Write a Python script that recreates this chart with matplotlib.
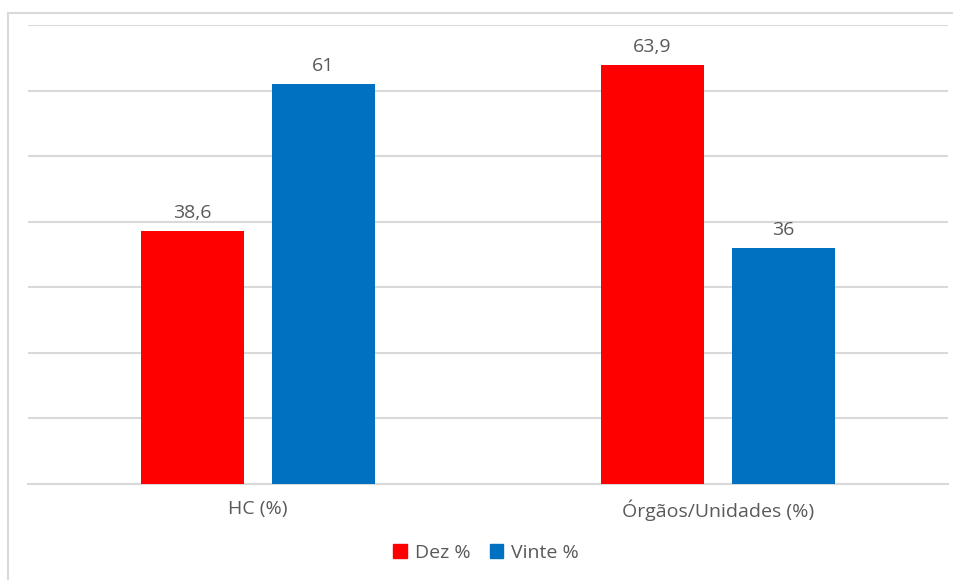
import matplotlib
matplotlib.use("Agg")
import matplotlib.pyplot as plt
import matplotlib.patches as mpatches
import numpy as np

categories = ["HC (%)", "Órgãos/Unidades (%)"]
series_names = ["Dez %", "Vinte %"]
dez = [38.6, 63.9]
vinte = [61, 36]
dez_labels = ["38,6", "63,9"]
vinte_labels = ["61", "36"]

RED = "#ff0000"
BLUE = "#0070c0"
GRID = "#d9d9d9"
TEXT = "#595959"

plt.rcParams["font.family"] = ["Open Sans", "DejaVu Sans"]

W, H = 954, 580
fig = plt.figure(figsize=(W / 100, H / 100), dpi=100)
ax = fig.add_axes([28 / W, 1 - 484 / H, 920 / W, (484 - 25) / H])

x = np.arange(len(categories))
width = 0.224
offset = 0.1424
b1 = ax.bar(x - offset, dez, width, color=RED, label=series_names[0], zorder=3)
b2 = ax.bar(x + offset, vinte, width, color=BLUE, label=series_names[1], zorder=3)

for bars, labels in ((b1, dez_labels), (b2, vinte_labels)):
    for rect, lab in zip(bars, labels):
        ax.text(rect.get_x() + rect.get_width() / 2, rect.get_height() + 1.3, lab,
                ha="center", va="bottom", fontsize=14, color=TEXT)

ax.set_xlim(-0.5, 1.5)
ax.set_ylim(0, 70)
ax.set_yticks(np.arange(0, 71, 10))
ax.yaxis.grid(True, color=GRID, linewidth=1.5, zorder=0)
ax.tick_params(left=False, labelleft=False, bottom=False)
ax.set_xticks(x)
ax.set_xticklabels(categories, fontsize=14, color=TEXT)
ax.tick_params(axis="x", pad=8)
for side in ("top", "right", "left"):
    ax.spines[side].set_visible(False)
ax.spines["bottom"].set_color(GRID)
ax.spines["bottom"].set_linewidth(1.5)

handles = [mpatches.Patch(color=RED, label=series_names[0]),
           mpatches.Patch(color=BLUE, label=series_names[1])]
fig.legend(handles=handles, loc="center", bbox_to_anchor=(486 / W, 1 - 553 / H),
           ncol=2, frameon=False, fontsize=14, labelcolor=TEXT,
           handlelength=0.7, handleheight=0.7, handletextpad=0.4, columnspacing=1.0)

# outer chart border
border = mpatches.Rectangle((8 / W, -0.1), 1.1, 1 - 13 / H + 0.1, transform=fig.transFigure,
                            fill=False, edgecolor=GRID, linewidth=1.5)
fig.patches.append(border)

fig.savefig("out.png", dpi=100)
